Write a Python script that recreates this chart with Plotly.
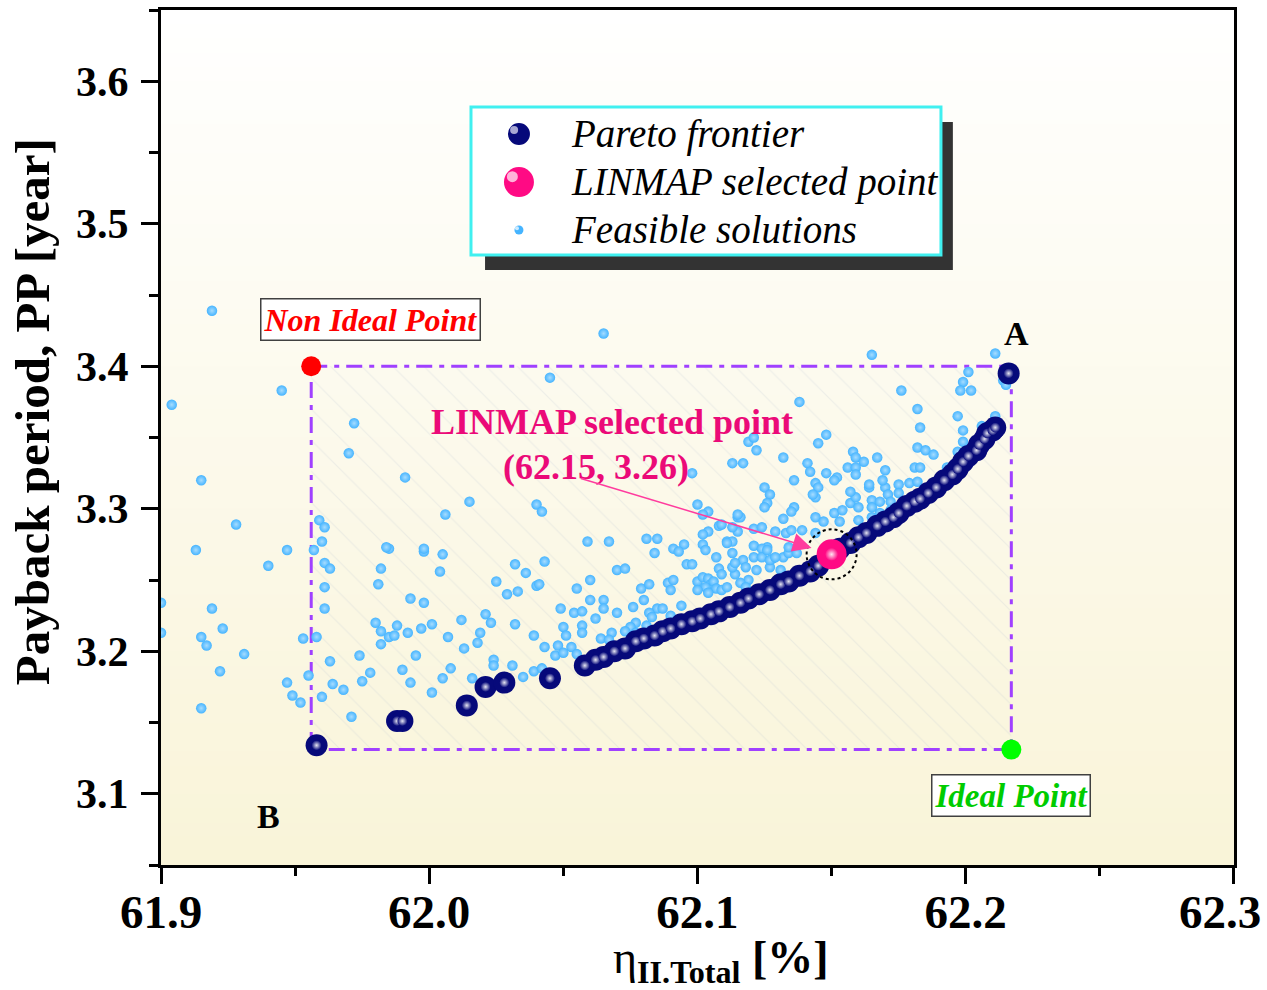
import plotly.graph_objects as go

# ---------------- data ----------------
pareto_x = [61.958, 61.988, 61.990, 62.014, 62.021, 62.028, 62.045, 62.058, 62.062, 62.065,
            62.069, 62.073, 62.077, 62.080, 62.084, 62.087, 62.090, 62.094, 62.098, 62.101,
            62.105, 62.108, 62.112, 62.116, 62.119, 62.123, 62.127, 62.131, 62.134, 62.138,
            62.142, 62.145, 62.153, 62.157, 62.160, 62.163, 62.167, 62.170, 62.173, 62.175,
            62.178, 62.181, 62.183, 62.186, 62.189, 62.192, 62.195, 62.197, 62.199, 62.201,
            62.204, 62.205, 62.207, 62.208, 62.210, 62.211, 62.216]
pareto_y = [3.134, 3.151, 3.151, 3.162, 3.175, 3.178, 3.181, 3.190, 3.194, 3.196,
            3.200, 3.202, 3.207, 3.209, 3.211, 3.214, 3.216, 3.219, 3.221, 3.223,
            3.226, 3.228, 3.231, 3.234, 3.237, 3.240, 3.243, 3.247, 3.249, 3.253,
            3.256, 3.260, 3.272, 3.276, 3.280, 3.283, 3.288, 3.291, 3.294, 3.297,
            3.302, 3.305, 3.307, 3.311, 3.315, 3.320, 3.324, 3.328, 3.333, 3.337,
            3.341, 3.345, 3.349, 3.353, 3.355, 3.357, 3.395]

feasible_x = [
    61.919, 61.904, 61.945, 61.915, 61.928, 61.913, 61.947, 61.940, 61.919, 61.923,
    61.915, 61.917, 61.931, 61.922, 61.915, 61.947, 61.949, 61.952, 61.953, 61.955,
    61.900, 61.900, 61.958, 61.957, 61.959, 61.961, 61.960, 61.961, 61.963, 61.961,
    61.961, 61.963, 61.964, 61.968, 61.960, 61.971, 61.974, 61.978, 61.975, 61.980,
    61.982, 61.985, 61.987, 61.988, 61.982, 61.982, 61.981, 61.985, 61.993, 61.998,
    62.001, 61.997, 61.992, 61.995, 61.990, 61.993, 62.001, 62.005, 62.008, 62.007,
    62.012, 62.013, 62.018, 62.019, 62.021, 62.023, 62.032, 62.039, 62.043, 62.024,
    62.024, 62.031, 62.035, 62.039, 62.042, 62.016, 62.015, 62.006, 62.040, 62.042,
    61.998, 62.005, 62.004, 62.032, 62.036, 62.025, 62.029, 62.033, 62.040, 62.041,
    62.043, 61.972, 61.970, 61.991, 62.045, 62.065, 61.984, 61.998,
    62.098, 62.113, 62.117, 62.119, 62.121, 62.122, 62.132, 62.138, 62.136, 62.125,
    62.127, 62.126, 62.125, 62.136, 62.135, 62.100, 62.104, 62.102, 62.115, 62.116,
    62.132, 62.108, 62.104, 62.102, 62.115, 62.121, 62.124, 62.129, 62.133, 62.135,
    62.059, 62.067, 62.081, 62.085, 62.095, 62.091, 62.102, 62.111, 62.113, 62.121,
    62.126, 62.084, 62.070, 62.073, 62.060, 62.055, 62.049, 62.060, 62.065, 62.065,
    62.054, 62.057, 62.070, 62.062, 62.057, 62.050, 62.051, 62.057, 62.068, 62.064,
    62.067, 62.048, 62.053, 62.047, 62.050, 62.055, 62.076, 62.080, 62.079, 62.082,
    62.089, 62.091, 62.090, 62.085, 62.087, 62.082, 62.083, 62.077, 62.075, 62.073,
    62.094, 62.090, 62.093, 62.096, 62.098, 62.100, 62.102, 62.104, 62.105, 62.103,
    62.106, 62.107, 62.100, 62.104, 62.109, 62.111, 62.114, 62.113, 62.113, 62.111,
    62.121, 62.124, 62.117, 62.118, 62.122, 62.119, 62.124, 62.128, 62.132, 62.134,
    62.137, 62.127, 62.131, 62.139, 62.144, 62.113, 62.109, 62.115, 62.144, 62.147,
    62.151, 62.153, 62.154, 62.116, 62.118, 62.077, 62.081,
    62.148, 62.145, 62.158, 62.159, 62.162, 62.167, 62.141, 62.142, 62.148, 62.152,
    62.144, 62.145, 62.156, 62.170, 62.144, 62.157, 62.159, 62.164, 62.165, 62.170,
    62.169, 62.171, 62.172, 62.126, 62.127, 62.134, 62.129, 62.103, 62.107, 62.114,
    62.108, 62.109, 62.165, 62.211, 62.201, 62.199, 62.198, 62.202, 62.176, 62.182,
    62.183, 62.197, 62.199, 62.206, 62.211, 62.199, 62.197, 62.182, 62.185, 62.188,
    62.159, 62.164, 62.159, 62.151, 62.143, 62.157, 62.175, 62.179, 62.182, 62.181,
    62.183, 62.193, 62.175, 62.160, 62.165, 62.168, 62.172, 62.160, 62.165, 62.168,
    62.214, 62.215]
feasible_y = [
    3.439, 3.373, 3.383, 3.320, 3.289, 3.271, 3.271, 3.260, 3.230, 3.216,
    3.210, 3.204, 3.198, 3.186, 3.160, 3.178, 3.169, 3.164, 3.209, 3.183,
    3.234, 3.213, 3.210, 3.271, 3.292, 3.287, 3.277, 3.262, 3.258, 3.245,
    3.230, 3.193, 3.177, 3.173, 3.168, 3.154, 3.197, 3.185, 3.179, 3.220,
    3.214, 3.210, 3.211, 3.218, 3.205, 3.258, 3.247, 3.272, 3.237, 3.234,
    3.219, 3.216, 3.213, 3.197, 3.187, 3.178, 3.171, 3.181, 3.188, 3.210,
    3.222, 3.202, 3.206, 3.213, 3.226, 3.220, 3.219, 3.211, 3.203, 3.194,
    3.190, 3.190, 3.182, 3.186, 3.188, 3.181, 3.305, 3.296, 3.303, 3.298,
    3.270, 3.268, 3.256, 3.261, 3.255, 3.249, 3.240, 3.242, 3.246, 3.247,
    3.263, 3.360, 3.339, 3.322, 3.392, 3.423, 3.273, 3.272,
    3.325, 3.332, 3.332, 3.347, 3.350, 3.341, 3.336, 3.375, 3.320, 3.315,
    3.310, 3.304, 3.301, 3.301, 3.298, 3.303, 3.298, 3.296, 3.294, 3.294,
    3.293, 3.288, 3.284, 3.282, 3.284, 3.286, 3.287, 3.284, 3.283, 3.285,
    3.277, 3.277, 3.279, 3.279, 3.275, 3.272, 3.275, 3.277, 3.277, 3.274,
    3.273, 3.269, 3.257, 3.258, 3.250, 3.244, 3.230, 3.236, 3.236, 3.230,
    3.227, 3.228, 3.227, 3.223, 3.218, 3.217, 3.211, 3.213, 3.213, 3.209,
    3.208, 3.204, 3.203, 3.197, 3.199, 3.198, 3.231, 3.236, 3.244, 3.247,
    3.248, 3.250, 3.243, 3.230, 3.230, 3.227, 3.224, 3.220, 3.217, 3.214,
    3.232, 3.225, 3.270, 3.261, 3.261, 3.249, 3.252, 3.251, 3.247, 3.245,
    3.249, 3.244, 3.243, 3.241, 3.243, 3.245, 3.254, 3.259, 3.269, 3.276,
    3.266, 3.272, 3.264, 3.259, 3.257, 3.250, 3.266, 3.265, 3.266, 3.269,
    3.269, 3.259, 3.257, 3.285, 3.283, 3.287, 3.289, 3.296, 3.294, 3.291,
    3.297, 3.291, 3.299, 3.248, 3.245, 3.213, 3.218,
    3.352, 3.346, 3.340, 3.336, 3.333, 3.336, 3.332, 3.326, 3.325, 3.322,
    3.318, 3.315, 3.329, 3.327, 3.308, 3.304, 3.308, 3.315, 3.306, 3.315,
    3.320, 3.310, 3.299, 3.271, 3.264, 3.273, 3.266, 3.271, 3.266, 3.262,
    3.258, 3.254, 3.408, 3.409, 3.396, 3.389, 3.383, 3.383, 3.383, 3.370,
    3.357, 3.365, 3.355, 3.358, 3.365, 3.347, 3.340, 3.343, 3.341, 3.338,
    3.329, 3.317, 3.324, 3.320, 3.310, 3.312, 3.317, 3.318, 3.319, 3.329,
    3.329, 3.329, 3.311, 3.301, 3.301, 3.305, 3.305, 3.292, 3.294, 3.297,
    3.390, 3.387]

linmap_x = [62.150]
linmap_y = [3.268]
ideal_x = [62.217]
ideal_y = [3.131]
nonideal_x = [61.956]
nonideal_y = [3.400]

x_ticks = [61.9, 62.0, 62.1, 62.2, 62.3]
x_tick_labels = ["61.9", "62.0", "62.1", "62.2", "62.3"]
y_ticks = [3.1, 3.2, 3.3, 3.4, 3.5, 3.6]
y_tick_labels = ["3.1", "3.2", "3.3", "3.4", "3.5", "3.6"]

legend_labels = ["Pareto frontier", "LINMAP selected point", "Feasible solutions"]

# ---------------- styles ----------------
FONT = "Liberation Serif"
NAVY = "#06097A"
PINK = "#FF0A84"
SKY = "#45B4FF"
PURPLE = "#A040FF"
XTICK_SIZE = 47

fig = go.Figure()

# Ideal / non-ideal box (dash-dot, hatched)
rx = [nonideal_x[0], ideal_x[0], ideal_x[0], nonideal_x[0], nonideal_x[0]]
ry = [nonideal_y[0], nonideal_y[0], ideal_y[0], ideal_y[0], nonideal_y[0]]
fig.add_trace(go.Scatter(
    x=rx, y=ry, mode="lines", showlegend=False, hoverinfo="skip",
    line=dict(color=PURPLE, width=3, dash="16px,7px,5px,7px"),
    fill="toself", fillcolor="rgba(0,0,0,0)",
    fillpattern=dict(shape="\\", size=22, solidity=0.05,
                     fgcolor="rgba(175,185,205,0.40)", bgcolor="rgba(0,0,0,0)")))

fig.add_trace(go.Scatter(
    x=feasible_x, y=feasible_y, mode="markers", name=legend_labels[2],
    showlegend=False,
    marker=dict(size=10.5, color=SKY, line=dict(width=0),
                gradient=dict(type="radial", color="#A6DCFF"))))

fig.add_trace(go.Scatter(
    x=pareto_x, y=pareto_y, mode="markers", name=legend_labels[0],
    showlegend=False,
    marker=dict(size=22, color=NAVY, line=dict(width=0))))
fig.add_trace(go.Scatter(
    x=pareto_x, y=pareto_y, mode="markers", showlegend=False, hoverinfo="skip",
    marker=dict(size=10, color=NAVY, line=dict(width=0),
                gradient=dict(type="radial", color="#E6E6F2"))))

fig.add_trace(go.Scatter(
    x=linmap_x, y=linmap_y, mode="markers", name=legend_labels[1],
    showlegend=False,
    marker=dict(size=30, color=PINK, line=dict(width=0))))
fig.add_trace(go.Scatter(
    x=linmap_x, y=linmap_y, mode="markers", showlegend=False, hoverinfo="skip",
    marker=dict(size=13, color=PINK, line=dict(width=0),
                gradient=dict(type="radial", color="#FFE6F2"))))

fig.add_trace(go.Scatter(
    x=nonideal_x, y=nonideal_y, mode="markers", showlegend=False,
    marker=dict(size=20, color="#FF0000", line=dict(width=0))))
fig.add_trace(go.Scatter(
    x=ideal_x, y=ideal_y, mode="markers", showlegend=False,
    marker=dict(size=20, color="#00FF00", line=dict(width=0))))

# ---------------- background gradient ----------------
shapes = []
n = 60
top = (255, 255, 255)
bot = (249, 244, 216)
for i in range(n):
    t = (i + 0.5) / n
    c = tuple(round(bot[k] + (top[k] - bot[k]) * t) for k in range(3))
    shapes.append(dict(type="rect", xref="x domain", yref="y domain",
                       x0=0, x1=1, y0=i / n, y1=(i + 1) / n + 0.002,
                       fillcolor="rgb(%d,%d,%d)" % c, line=dict(width=0),
                       layer="below"))

# dotted circle around LINMAP point
shapes.append(dict(type="circle", xref="x", yref="y", xsizemode="pixel",
                   ysizemode="pixel", xanchor=linmap_x[0], yanchor=linmap_y[0],
                   x0=-25, x1=25, y0=-25, y1=25,
                   line=dict(color="black", width=2, dash="dot"), layer="above"))

# ---------------- legend box (drawn by hand in paper space) ----------------
shapes.append(dict(type="rect", xref="paper", yref="paper",
                   x0=0.302, x1=0.738, y0=0.696, y1=0.869,
                   fillcolor="#333333", line=dict(width=0), layer="above"))
shapes.append(dict(type="rect", xref="paper", yref="paper",
                   x0=0.2889, x1=0.7269, y0=0.7135, y1=0.8865,
                   fillcolor="white", line=dict(color="#40F0F0", width=3),
                   layer="above"))

leg_x = 0.3336
leg_rows = [0.8550, 0.7988, 0.7427]
leg_sym = [(22, NAVY, 8, "#A8A8D4"), (30, PINK, 11, "#FFB3D9"), (9, SKY, 4, "#CDEBFF")]
for yy, (sz, col, hs, hcol) in zip(leg_rows, leg_sym):
    shapes.append(dict(type="circle", xref="paper", yref="paper",
                       xsizemode="pixel", ysizemode="pixel",
                       xanchor=leg_x, yanchor=yy,
                       x0=-sz / 2, x1=sz / 2, y0=-sz / 2, y1=sz / 2,
                       fillcolor=col, line=dict(width=0), layer="above"))
    shapes.append(dict(type="circle", xref="paper", yref="paper",
                       xsizemode="pixel", ysizemode="pixel",
                       xanchor=leg_x, yanchor=yy,
                       x0=-sz * 0.22 - hs / 2, x1=-sz * 0.22 + hs / 2,
                       y0=sz * 0.18 - hs / 2, y1=sz * 0.18 + hs / 2,
                       fillcolor=hcol, line=dict(width=0), layer="above"))

annotations = []
for yy, lab in zip(leg_rows, legend_labels):
    annotations.append(dict(x=0.3805, y=yy, xref="paper", yref="paper",
                            xanchor="left", yanchor="middle", showarrow=False,
                            text="<i>%s</i>" % lab,
                            font=dict(family=FONT, size=39, color="black")))

# last x tick label sits at the right edge of the frame: keep it inside the page
annotations.append(dict(x=x_ticks[-1], y=-0.0545, xref="x", yref="paper",
                        xanchor="center", yanchor="middle", xshift=-14,
                        showarrow=False, text="<b>%s</b>" % x_tick_labels[-1],
                        font=dict(family=FONT, size=XTICK_SIZE, color="black")))
x_tick_text = x_tick_labels[:-1] + [""]

annotations += [
    dict(x=61.978, y=3.433, xref="x", yref="y", showarrow=False,
         text="<b><i>Non Ideal Point</i></b>",
         font=dict(family=FONT, size=32, color="#FF0000"),
         bgcolor="white", bordercolor="#404040", borderwidth=1.5, borderpad=2),
    dict(x=62.217, y=3.099, xref="x", yref="y", showarrow=False,
         text="<b><i>Ideal Point</i></b>",
         font=dict(family=FONT, size=33, color="#00CC00"),
         bgcolor="white", bordercolor="#404040", borderwidth=1.5, borderpad=2),
    dict(x=62.219, y=3.423, xref="x", yref="y", showarrow=False, text="<b>A</b>",
         font=dict(family=FONT, size=34, color="black")),
    dict(x=61.940, y=3.084, xref="x", yref="y", showarrow=False, text="<b>B</b>",
         font=dict(family=FONT, size=34, color="black")),
    dict(x=62.068, y=3.361, xref="x", yref="y", showarrow=False,
         text="<b>LINMAP selected point</b>",
         font=dict(family=FONT, size=36, color="#EB0A78")),
    dict(x=62.062, y=3.329, xref="x", yref="y", showarrow=False,
         text="<b>(62.15, 3.26)</b>",
         font=dict(family=FONT, size=36, color="#EB0A78")),
    dict(x=62.1425, y=3.2725, xref="x", yref="y", ax=62.056, ay=3.3216,
         axref="x", ayref="y", text="", showarrow=True, arrowhead=2,
         arrowsize=2.5, arrowwidth=1.5, arrowcolor="#FF3C9E", standoff=0),
    dict(x=-0.119, y=0.530, xref="paper", yref="paper", showarrow=False,
         xanchor="center", yanchor="middle",
         textangle=-90, text="<b>Payback period, PP [year]</b>",
         font=dict(family=FONT, size=49, color="black")),
    dict(x=0.522, y=-0.112, xref="paper", yref="paper", showarrow=False,
         xanchor="center", yanchor="middle",
         text="η<sub><b>II.Total</b></sub> <b>[%]</b>",
         font=dict(family=FONT, size=46, color="black")),
]

axis_common = dict(showline=True, linewidth=3, linecolor="black", mirror=True,
                   showgrid=False, zeroline=False, ticks="outside",
                   tickwidth=2.5, tickcolor="black", automargin=False)

fig.update_layout(
    width=1267, height=990,
    margin=dict(l=161, r=33, t=10, b=125),
    paper_bgcolor="white", plot_bgcolor="white",
    shapes=shapes, annotations=annotations,
    showlegend=False,
    xaxis=dict(range=[61.9, 62.30001], tickvals=x_ticks, ticktext=x_tick_text,
               ticklen=16, ticklabelstandoff=-12,
               tickfont=dict(family=FONT, size=XTICK_SIZE, color="black", weight="bold"),
               minor=dict(ticks="outside", ticklen=8, tickwidth=2.5,
                          tickcolor="black", dtick=0.05, tick0=61.9),
               **axis_common),
    yaxis=dict(range=[3.05, 3.65], tickvals=y_ticks, ticktext=y_tick_labels,
               ticklen=17, ticklabelstandoff=4,
               tickfont=dict(family=FONT, size=42, color="black", weight="bold"),
               minor=dict(ticks="outside", ticklen=9, tickwidth=2.5,
                          tickcolor="black", dtick=0.05, tick0=3.05),
               **axis_common),
)

fig.write_html("out.html")
